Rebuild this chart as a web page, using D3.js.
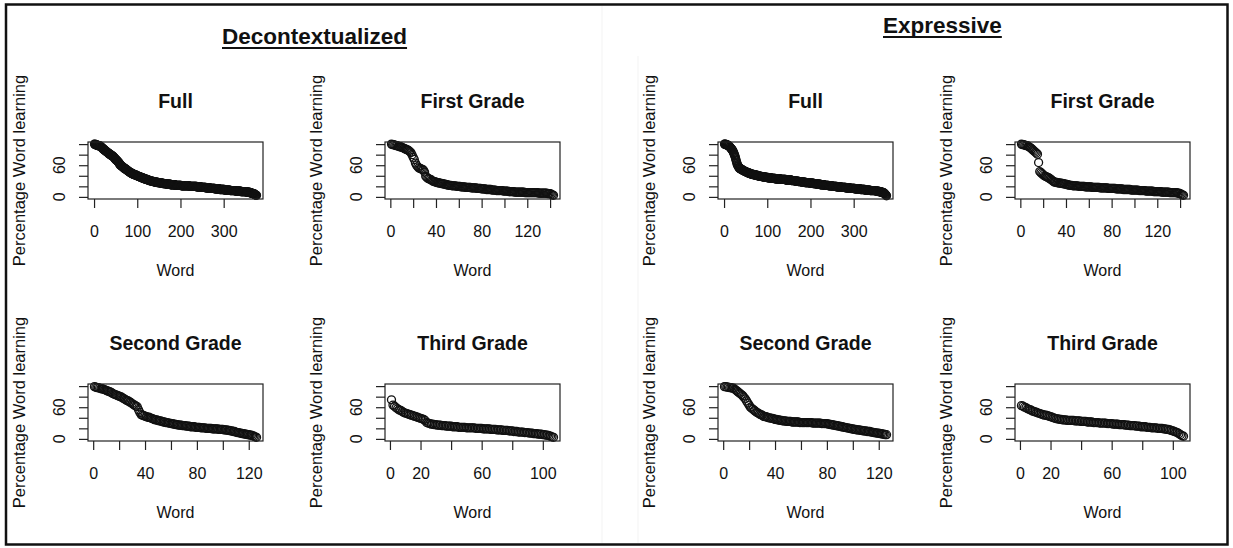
<!DOCTYPE html>
<html>
<head>
<meta charset="utf-8">
<script src="https://cdn.jsdelivr.net/npm/d3@7"></script>
<style>
  body { margin: 0; background: #fff; }
  text { font-family: "Liberation Sans", Arial, sans-serif; fill: #111; }
</style>
</head>
<body>
<div id="chart"></div>
<script>
//***************** data *******************/
// percentage word learning per word, sorted high to low
var decFull = [
  100,100,99,99,99,98,98,98,97,97, 97,97,96,96,96,95,94,93,93,92, 91,90,90,89,88,88,87,86,86,85,
  84,84,83,82,82,81,81,80,79,79, 78,78,77,77,76,75,74,73,72,71, 70,70,69,68,67,66,65,64,63,61,
  60,60,59,58,58,57,56,56,55,54, 54,53,53,52,52,51,50,50,49,48, 48,47,47,46,46,45,45,44,44,43,
  43,43,42,42,42,41,41,41,40,40, 40,39,39,39,38,38,38,37,37,37, 36,36,36,35,35,35,34,34,34,33,
  33,33,33,32,32,32,31,31,31,31, 30,30,30,30,30,29,29,29,29,29, 28,28,28,28,28,28,27,27,27,27,
  27,27,27,26,26,26,26,26,26,25, 25,25,25,25,25,25,25,24,24,24, 24,24,24,24,24,24,23,23,23,23,
  23,23,23,23,23,23,23,22,22,22, 22,22,22,22,22,22,22,22,22,22, 22,21,21,21,21,21,21,21,21,21,
  21,21,21,21,21,21,21,21,21,21, 20,20,20,20,20,20,20,20,20,20, 20,20,20,20,20,20,20,19,19,19,
  19,19,19,19,19,19,19,18,18,18, 18,18,18,18,18,18,18,18,17,17, 17,17,17,17,17,17,17,17,16,16,
  16,16,16,16,16,16,16,16,16,15, 15,15,15,15,15,15,15,15,15,15, 14,14,14,14,14,14,14,14,14,14,
  14,13,13,13,13,13,13,13,13,13, 13,13,13,13,12,12,12,12,12,12, 12,12,12,12,12,12,11,11,11,11,
  11,11,11,11,11,11,11,11,11,10, 10,10,10,10,10,10,10,10,10,10, 10,10,9,9,9,9,9,9,9,8,
  8,8,8,7,7,7,6,6,6,6, 5,5,4,4,3,3
];
var decFirst = [
  100,99,99,98,97,97,96,95,95,94, 93,92,91,90,89,88,86,84,80,75, 71,64,60,57,55,54,53,52,51,47,
  39,37,35,34,33,32,30,29,29,28, 27,27,26,26,25,25,24,24,23,23, 22,22,22,21,21,21,21,20,20,20,
  20,19,19,19,19,18,18,18,18,18, 17,17,17,17,17,16,16,16,16,15, 15,15,15,14,14,14,14,14,13,13,
  13,13,12,12,12,12,12,12,11,11, 11,11,11,10,10,10,10,10,9,9, 9,9,9,9,9,9,9,8,8,8,
  8,8,8,8,8,8,8,8,8,7, 7,7,7,7,7,7,7,6,6,6, 5,4,3
];
var decSecond = [
  99,98,97,97,96,95,95,94,93,92, 91,90,89,88,86,85,84,83,82,81, 80,79,77,76,74,73,72,70,69,67,
  65,64,62,61,55,50,46,45,44,43, 42,41,41,40,39,38,37,36,36,35, 34,34,33,32,32,31,31,30,30,29,
  29,28,28,27,27,26,26,26,25,25, 25,24,24,24,23,23,23,23,22,22, 22,22,21,21,21,21,20,20,20,20,
  20,19,19,19,19,19,18,18,18,18, 17,17,17,16,16,15,15,14,14,13, 12,12,11,11,10,10,9,9,8,8,
  7,7,6,5,4,3
];
var decThird = [
  74,64,62,59,57,55,54,52,50,49, 48,47,46,45,44,43,42,41,40,39, 38,37,35,31,30,29,28,28,27,27,
  26,26,26,25,25,25,24,24,24,24, 23,23,23,23,22,22,22,22,22,21, 21,21,21,21,21,20,20,20,20,20,
  19,19,19,19,19,18,18,18,18,17, 17,17,17,16,16,16,16,15,15,15, 14,14,14,13,13,13,13,12,12,12,
  11,11,11,10,10,10,9,9,9,8, 8,7,7,6,5,4,3
];
var expFull = [
  100,100,100,99,99,99,98,98,98,97, 97,96,95,94,93,92,91,90,89,88, 86,84,82,80,78,75,72,69,66,63,
  61,59,58,56,55,54,54,53,53,52, 52,51,51,50,50,49,49,49,48,48, 47,47,47,46,46,46,45,45,45,44,
  44,44,43,43,43,43,42,42,42,42, 42,41,41,41,41,41,40,40,40,40, 40,39,39,39,39,39,39,38,38,38,
  38,38,38,38,37,37,37,37,37,37, 37,36,36,36,36,36,36,36,36,35, 35,35,35,35,35,35,35,35,34,34,
  34,34,34,34,34,34,34,34,34,34, 33,33,33,33,33,33,33,33,33,33, 33,33,32,32,32,32,32,32,32,32,
  32,32,32,32,32,31,31,31,31,31, 31,31,31,30,30,30,30,30,30,30, 30,29,29,29,29,29,29,29,29,28,
  28,28,28,28,28,28,28,27,27,27, 27,27,27,27,27,27,27,27,26,26, 26,26,26,26,26,26,25,25,25,25,
  25,25,25,25,24,24,24,24,24,24, 24,24,23,23,23,23,23,23,23,23, 23,22,22,22,22,22,22,22,22,22,
  22,21,21,21,21,21,21,21,21,21, 20,20,20,20,20,20,20,20,20,20, 19,19,19,19,19,19,19,19,19,19,
  18,18,18,18,18,18,18,18,18,18, 18,17,17,17,17,17,17,17,17,17, 17,16,16,16,16,16,16,16,16,16,
  16,16,15,15,15,15,15,15,15,15, 15,15,15,15,15,14,14,14,14,14, 14,14,14,14,14,13,13,13,13,13,
  13,13,13,13,13,13,13,12,12,12, 12,12,12,12,12,12,12,12,12,12, 11,11,11,11,11,11,11,10,10,10,
  10,10,9,9,9,9,8,8,8,7, 7,6,5,4,3,2
];
var expFirst = [
  100,99,99,98,97,97,96,94,93,91, 89,87,85,83,81,65,48,46,44,42, 40,39,38,37,36,34,33,31,29,28,
  28,27,27,26,26,26,25,25,24,24, 23,23,22,22,22,21,21,21,21,21, 20,20,20,20,20,20,19,19,19,19,
  19,19,18,18,18,18,18,18,18,17, 17,17,17,17,17,17,16,16,16,16, 16,16,16,15,15,15,15,15,15,14,
  14,14,14,14,14,14,13,13,13,13, 13,13,13,12,12,12,12,12,12,11, 11,11,11,11,11,11,10,10,10,10,
  10,10,10,9,9,9,9,9,9,9, 8,8,8,8,8,8,8,7,7,6, 5,4,3
];
var expSecond = [
  99,99,98,98,97,97,96,96,94,92, 90,88,86,84,82,79,76,72,68,64, 60,58,56,54,52,50,49,47,46,45,
  43,42,42,41,40,40,39,39,38,37, 37,36,36,35,35,34,34,34,33,33, 33,33,32,32,32,32,32,32,31,31,
  31,31,31,31,31,31,31,31,30,30, 30,30,30,30,30,29,29,29,29,29, 28,28,27,27,26,26,25,25,24,24,
  23,23,22,22,21,21,20,20,19,19, 18,18,17,17,17,16,16,15,15,15, 14,14,14,13,13,12,12,11,11,11,
  10,10,9,9,8,8
];
var expThird = [
  63,62,60,59,57,56,55,53,52,51, 50,49,48,47,46,45,45,44,43,42, 41,40,39,38,38,37,37,36,36,36,
  35,35,35,35,35,34,34,34,34,33, 33,33,33,32,32,32,32,31,31,31, 31,30,30,30,30,30,29,29,29,29,
  28,28,28,28,27,27,27,27,26,26, 26,25,25,25,25,24,24,24,23,23, 23,23,22,22,22,21,21,21,21,20,
  20,20,20,19,19,18,18,17,16,15, 14,13,12,10,8,6,5
];

var sectionTitles = ["Decontextualized", "Expressive"];
var panelTitles = ["Full", "First Grade", "Second Grade", "Third Grade"];
var xTicksFull = [0, 100, 200, 300],                  xLabelsFull = [0, 100, 200, 300];
var xTicksFirst = [0, 20, 40, 60, 80, 100, 120, 140], xLabelsFirst = [0, 40, 80, 120];
var xTicksSecond = [0, 20, 40, 60, 80, 100, 120],     xLabelsSecond = [0, 40, 80, 120];
var xTicksThird = [0, 20, 40, 60, 80, 100],           xLabelsThird = [0, 20, 60, 100];
var yTicks = [0, 20, 40, 60, 80, 100], yLabels = [0, 60];

//************* set dimensions ***************/
var W = 1233, H = 548;
var colX = [88, 385, 718, 1015], rowY = [142, 384];
var boxW = 175, boxH = 57, tickLen = 9;

var panels = [
  {data: decFull,   title: panelTitles[0], col: 0, row: 0, ticks: xTicksFull,   labels: xLabelsFull},
  {data: decFirst,  title: panelTitles[1], col: 1, row: 0, ticks: xTicksFirst,  labels: xLabelsFirst},
  {data: decSecond, title: panelTitles[2], col: 0, row: 1, ticks: xTicksSecond, labels: xLabelsSecond},
  {data: decThird,  title: panelTitles[3], col: 1, row: 1, ticks: xTicksThird,  labels: xLabelsThird},
  {data: expFull,   title: panelTitles[0], col: 2, row: 0, ticks: xTicksFull,   labels: xLabelsFull},
  {data: expFirst,  title: panelTitles[1], col: 3, row: 0, ticks: xTicksFirst,  labels: xLabelsFirst},
  {data: expSecond, title: panelTitles[2], col: 2, row: 1, ticks: xTicksSecond, labels: xLabelsSecond},
  {data: expThird,  title: panelTitles[3], col: 3, row: 1, ticks: xTicksThird,  labels: xLabelsThird}
];

//************** setup svg  *****************/
var svg = d3.select("#chart").append("svg")
  .attr("width", W)
  .attr("height", H);

svg.append("rect")
  .attr("width", W).attr("height", H)
  .attr("fill", "#fff");

// faint seams between the two pasted halves
svg.append("line")
  .attr("x1", 602).attr("x2", 602).attr("y1", 6).attr("y2", 543)
  .attr("stroke", "#f3f3f3");
svg.append("line")
  .attr("x1", 638).attr("x2", 638).attr("y1", 56).attr("y2", 543)
  .attr("stroke", "#f3f3f3");

// outer frame
svg.append("rect")
  .attr("x", 6).attr("y", 4.5)
  .attr("width", 1221.5).attr("height", 540)
  .attr("fill", "none")
  .attr("stroke", "#111")
  .attr("stroke-width", 2.5);

//***************** section headings *******************/
var heads = [
  {text: sectionTitles[0], x: 222, y: 44},
  {text: sectionTitles[1], x: 883, y: 33}
];
heads.forEach(function(h) {
  var t = svg.append("text")
    .attr("x", h.x).attr("y", h.y)
    .attr("font-size", "22.5px")
    .attr("font-weight", "bold")
    .text(h.text);
  var len = t.node().getComputedTextLength();
  svg.append("line")
    .attr("x1", h.x).attr("x2", h.x + len)
    .attr("y1", h.y + 4).attr("y2", h.y + 4)
    .attr("stroke", "#111")
    .attr("stroke-width", 2);
});

//***************** panels *******************/
panels.forEach(function(p) {
  var left = colX[p.col], top = rowY[p.row];
  var n = p.data.length;
  var pad = 0.04 * (n - 1);

  var x = d3.scaleLinear()
    .domain([1 - pad, n + pad])
    .range([left, left + boxW]);
  var y = d3.scaleLinear()
    .domain([-4, 104])
    .range([top + boxH, top]);

  var g = svg.append("g");

  // x axis
  var xAxis = d3.axisBottom(x)
    .tickValues(p.ticks)
    .tickSize(tickLen)
    .tickPadding(17.5)
    .tickFormat(function(d) { return p.labels.indexOf(d) >= 0 ? d : ""; });
  g.append("g")
    .attr("transform", "translate(0," + (top + boxH) + ")")
    .call(xAxis)
    .call(function(a) {
      a.select(".domain").remove();
      a.selectAll("line").attr("stroke", "#222").attr("stroke-width", 1.2);
      a.selectAll("text")
        .attr("font-size", "16px")
        .attr("font-family", "Liberation Sans, Arial, sans-serif")
        .attr("fill", "#111");
    });

  // y axis (ticks only, labels drawn rotated like base R)
  var yAxis = d3.axisLeft(y)
    .tickValues(yTicks)
    .tickSize(tickLen)
    .tickFormat("");
  g.append("g")
    .attr("transform", "translate(" + left + ",0)")
    .call(yAxis)
    .call(function(a) {
      a.select(".domain").remove();
      a.selectAll("line").attr("stroke", "#222").attr("stroke-width", 1.2);
    });

  g.selectAll(".ylab")
    .data(yLabels)
    .enter().append("text")
      .attr("class", "ylab")
      .attr("font-size", "16px")
      .attr("text-anchor", "middle")
      .attr("transform", function(d) {
        return "translate(" + (left - 23) + "," + y(d) + ") rotate(-90)";
      })
      .text(function(d) { return d; });

  // points (open circles)
  g.selectAll("circle")
    .data(p.data)
    .enter().append("circle")
      .attr("cx", function(d, i) { return x(i + 1); })
      .attr("cy", function(d) { return y(d); })
      .attr("r", 4)
      .attr("fill", "none")
      .attr("stroke", "#111")
      .attr("stroke-width", 1.3);

  // box
  g.append("rect")
    .attr("x", left).attr("y", top)
    .attr("width", boxW).attr("height", boxH)
    .attr("fill", "none")
    .attr("stroke", "#222")
    .attr("stroke-width", 1.2);

  // title
  g.append("text")
    .attr("x", left + boxW / 2)
    .attr("y", top - 34)
    .attr("text-anchor", "middle")
    .attr("font-size", "19.5px")
    .attr("font-weight", "bold")
    .text(p.title);

  // x label
  g.append("text")
    .attr("x", left + boxW / 2)
    .attr("y", top + boxH + 77)
    .attr("text-anchor", "middle")
    .attr("font-size", "16px")
    .text("Word");

  // y label
  g.append("text")
    .attr("text-anchor", "middle")
    .attr("font-size", "16.5px")
    .attr("transform", "translate(" + (left - 63) + "," + (top + boxH / 2) + ") rotate(-90)")
    .text("Percentage Word learning");
});
</script>
</body>
</html>
